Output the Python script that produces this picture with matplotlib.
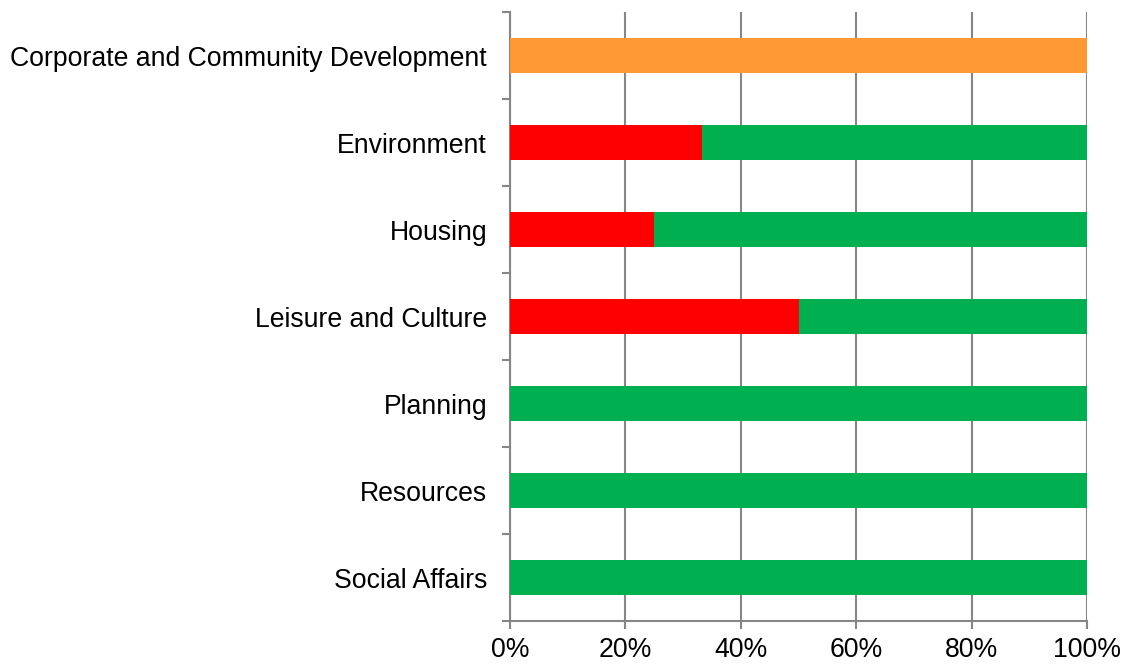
import matplotlib
matplotlib.use("Agg")
import matplotlib.pyplot as plt
from matplotlib.ticker import FixedLocator, PercentFormatter
import numpy as np

plt.rcParams['font.family'] = ['Liberation Sans', 'DejaVu Sans']

categories = [
    "Corporate and Community Development",
    "Environment",
    "Housing",
    "Leisure and Culture",
    "Planning",
    "Resources",
    "Social Affairs",
]
red_share = [0.0, 33.3, 25.0, 50.0, 0.0, 0.0, 0.0]
amber_share = [100.0, 0.0, 0.0, 0.0, 0.0, 0.0, 0.0]
green_share = [0.0, 66.7, 75.0, 50.0, 100.0, 100.0, 100.0]
x_ticks = [0, 20, 40, 60, 80, 100]

grid_col = "#868686"

fig = plt.figure(figsize=(11.29, 6.65), dpi=100)
ax = fig.add_axes([510 / 1129, 1 - 621 / 665, (1087 - 510) / 1129, (621 - 12) / 665])

y = np.arange(len(categories))[::-1]
red = np.array(red_share)
amber = np.array(amber_share)
green = np.array(green_share)
h = 0.4
ax.barh(y, red, height=h, color="#FF0000", zorder=3)
ax.barh(y, amber, left=red, height=h, color="#FF9933", zorder=3)
ax.barh(y, green, left=red + amber, height=h, color="#00B050", zorder=3)

ax.set_xlim(0, 100)
ax.set_ylim(-0.5, len(categories) - 0.5)
ax.set_xticks(x_ticks)
ax.xaxis.set_major_formatter(PercentFormatter(decimals=0))
ax.xaxis.grid(True, color=grid_col, linewidth=1.5, zorder=0)

ax.set_yticks(y)
ax.set_yticklabels(categories)
ax.yaxis.set_minor_locator(FixedLocator(np.arange(len(categories) + 1) - 0.5))
ax.tick_params(axis="y", which="major", length=0, pad=16.5, labelsize=19.2)
ax.tick_params(axis="y", which="minor", length=6, width=1.5, color=grid_col)
ax.tick_params(axis="x", which="major", length=6, width=1.5, color=grid_col, pad=5.5, labelsize=19.2)

for side in ("top", "right"):
    ax.spines[side].set_visible(False)
for side in ("left", "bottom"):
    ax.spines[side].set_color(grid_col)
    ax.spines[side].set_linewidth(1.5)

fig.savefig("out.png", dpi=100)
